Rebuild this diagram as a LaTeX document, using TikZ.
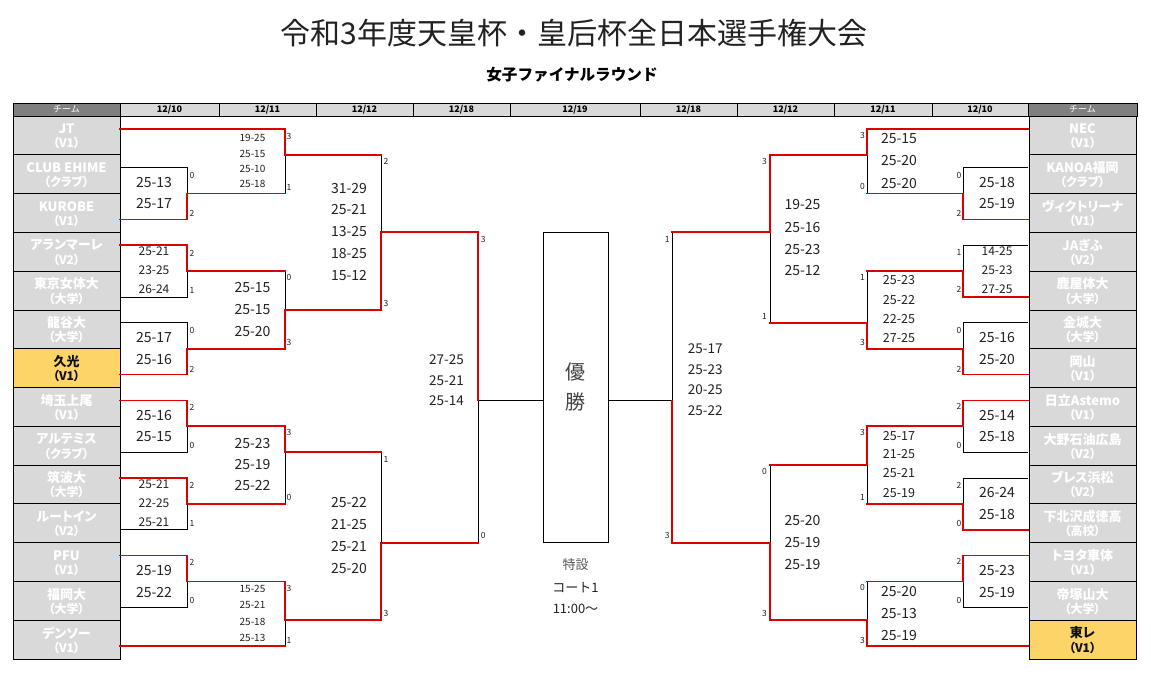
\documentclass[tikz,border=0pt]{standalone}
\usepackage{fontspec}
\setmainfont{Noto Sans CJK JP}
\newfontfamily\pf{Noto Sans CJK JP}[RawFeature=+palt]
\definecolor{tmfill}{HTML}{D9D9D9}
\definecolor{tmtext}{HTML}{FFFFFF}
\definecolor{hlfill}{HTML}{FCD468}
\definecolor{hltext}{HTML}{111111}
\definecolor{hdark}{HTML}{808080}
\definecolor{hlight}{HTML}{D9D9D9}
\definecolor{wred}{HTML}{DD0000}
\definecolor{ink}{HTML}{222222}
\newcounter{sn}
\newcommand\teamcell[6]{%
 \node[cellbox, fill=#6fill] (#1) at (#2,{116+38.786*#3+19.393}) {};
 \node[tname, text=#6text] (#1n) at (#2,{116+38.786*#3+12.8}) {#4};
 \node[tsub, text=#6text] (#1s) at (#2,{116+38.786*#3+27.3}) {#5};}
\newcommand\hcell[5]{%
 \node[hbox, minimum width={#3-#2}, #5] (#1) at ({(#2+#3)/2},109.5) {#4};}
\newcommand\sco[4]{\stepcounter{sn}%
 \node[sc, font=\fontsize{#1}{#1}\selectfont] (s\arabic{sn}) at (#2,#3) {#4};}
\newcommand\lbl[3]{\stepcounter{sn}%
 \node[lb] (l\arabic{sn}) at (#1,#2) {#3};}
\begin{document}
\begin{tikzpicture}[x=1pt,y=-1pt,
  cellbox/.style={draw=black, line width=0.8pt, minimum width=107pt, minimum height=38.786pt, inner sep=0pt},
  tname/.style={font=\pf\bfseries\fontsize{13}{13}\selectfont, inner sep=0pt},
  tsub/.style={font=\pf\bfseries\fontsize{12}{12}\selectfont, inner sep=0pt},
  hbox/.style={draw=black, line width=0.8pt, minimum height=13pt, inner sep=0pt, font=\bfseries\fontsize{9}{9}\selectfont},
  sc/.style={inner sep=0pt, text=ink},
  lb/.style={inner sep=0pt, text=ink, font=\fontsize{8.5}{8.5}\selectfont},
  rl/.style={draw=wred, line width=1.8pt, line join=miter, line cap=rect},
  bk/.style={draw=black, line width=0.9pt},
  fbox/.style={draw=black, line width=0.9pt}
]
\useasboundingbox (0,0) rectangle (1151,689);
\fill[white] (0,0) rectangle (1151,689);

% titles
\node[inner sep=0pt, text=ink, font=\fontsize{30}{30}\selectfont] (title) at (574,33) {令和3年度天皇杯・皇后杯全日本選手権大会};
\node[inner sep=0pt, text=black, font=\bfseries\fontsize{15.6}{15.6}\selectfont] (subtitle) at (572,75) {女子ファイナルラウンド};

% header
\hcell{hL}{13}{120}{チーム}{fill=hdark, text=white, font=\fontsize{9}{9}\selectfont}
\hcell{h1}{120}{219}{12/10}{fill=hlight}
\hcell{h2}{219}{316}{12/11}{fill=hlight}
\hcell{h3}{316}{413}{12/12}{fill=hlight}
\hcell{h4}{413}{510}{12/18}{fill=hlight}
\hcell{h5}{510}{640}{12/19}{fill=hlight}
\hcell{h6}{640}{737}{12/18}{fill=hlight}
\hcell{h7}{737}{834}{12/12}{fill=hlight}
\hcell{h8}{834}{932}{12/11}{fill=hlight}
\hcell{h9}{932}{1028}{12/10}{fill=hlight}
\hcell{hR}{1028}{1137}{チーム}{fill=hdark, text=white, font=\fontsize{9}{9}\selectfont}

% left teams
\teamcell{TL0}{66.5}{0}{JT}{（V1）}{tm}
\teamcell{TL1}{66.5}{1}{CLUB EHIME}{（クラブ）}{tm}
\teamcell{TL2}{66.5}{2}{KUROBE}{（V1）}{tm}
\teamcell{TL3}{66.5}{3}{アランマーレ}{（V2）}{tm}
\teamcell{TL4}{66.5}{4}{東京女体大}{（大学）}{tm}
\teamcell{TL5}{66.5}{5}{龍谷大}{（大学）}{tm}
\teamcell{TL6}{66.5}{6}{久光}{（V1）}{hl}
\teamcell{TL7}{66.5}{7}{埼玉上尾}{（V1）}{tm}
\teamcell{TL8}{66.5}{8}{アルテミス}{（クラブ）}{tm}
\teamcell{TL9}{66.5}{9}{筑波大}{（大学）}{tm}
\teamcell{TL10}{66.5}{10}{ルートイン}{（V2）}{tm}
\teamcell{TL11}{66.5}{11}{PFU}{（V1）}{tm}
\teamcell{TL12}{66.5}{12}{福岡大}{（大学）}{tm}
\teamcell{TL13}{66.5}{13}{デンソー}{（V1）}{tm}
% right teams
\teamcell{TR0}{1082.5}{0}{NEC}{（V1）}{tm}
\teamcell{TR1}{1082.5}{1}{KANOA福岡}{（クラブ）}{tm}
\teamcell{TR2}{1082.5}{2}{ヴィクトリーナ}{（V1）}{tm}
\teamcell{TR3}{1082.5}{3}{JAぎふ}{（V2）}{tm}
\teamcell{TR4}{1082.5}{4}{鹿屋体大}{（大学）}{tm}
\teamcell{TR5}{1082.5}{5}{金城大}{（大学）}{tm}
\teamcell{TR6}{1082.5}{6}{岡山}{（V1）}{tm}
\teamcell{TR7}{1082.5}{7}{日立Astemo}{（V1）}{tm}
\teamcell{TR8}{1082.5}{8}{大野石油広島}{（V2）}{tm}
\teamcell{TR9}{1082.5}{9}{ブレス浜松}{（V2）}{tm}
\teamcell{TR10}{1082.5}{10}{下北沢成徳高}{（高校）}{tm}
\teamcell{TR11}{1082.5}{11}{トヨタ車体}{（V1）}{tm}
\teamcell{TR12}{1082.5}{12}{帝塚山大}{（大学）}{tm}
\teamcell{TR13}{1082.5}{13}{東レ}{（V1）}{hl}

% bracket lines (x in px, y in sub-rows)
\begin{scope}[yshift=-116pt, y=-12.92857pt]
% final box
\node[fbox, minimum width=65pt, minimum height=310.3pt, inner sep=0pt] (final) at (575.5,21) {};
\coordinate (sl) at (478,22);
\coordinate (sr) at (672,22);
% left black
\draw[bk] (120,4)--(187,4)--(187,6);
\draw[bk] (187,12)--(187,14)--(120,14);
\draw[bk] (120,16)--(187,16)--(187,18);
\draw[bk] (187,24)--(187,26)--(120,26);
\draw[bk] (187,30)--(187,32)--(120,32);
\draw[bk] (187,36)--(187,38)--(120,38);
\draw[bk] (285,3)--(285,6);
\draw[bk] (285,12)--(285,15);
\draw[bk] (285,26)--(285,30);
\draw[bk] (285,39)--(285,41);
\draw[bk] (381,3)--(381,9);
\draw[bk] (381,26)--(381,33);
\draw[bk] (478,33)--(sl)--(sl -| final.west);
% right black
\draw[bk] (1028,4)--(963,4)--(963,6);
\draw[bk] (1028,10)--(963,10)--(963,12);
\draw[bk] (1028,16)--(963,16)--(963,18);
\draw[bk] (963,24)--(963,26)--(1028,26);
\draw[bk] (1028,28)--(963,28)--(963,30);
\draw[bk] (963,36)--(963,38)--(1028,38);
\draw[bk] (867,3)--(867,6);
\draw[bk] (867,12)--(867,16);
\draw[bk] (867,27)--(867,30);
\draw[bk] (867,36)--(867,39);
\draw[bk] (770,9)--(770,16);
\draw[bk] (770,27)--(770,33);
\draw[bk] (672,9)--(sr)--(sr -| final.east);
% left red
\draw[rl] (120,1)--(285,1)--(285,3)--(381,3);
\draw[rl] (120,8)--(187,8)--(187,6)--(285,6);
\draw[rl] (120,10)--(187,10)--(187,12)--(285,12);
\draw[rl] (120,20)--(187,20)--(187,18)--(285,18)--(285,15)--(381,15)--(381,9)--(478,9)--(sl);
\draw[rl] (120,22)--(187,22)--(187,24)--(285,24)--(285,26)--(381,26);
\draw[rl] (120,28)--(187,28)--(187,30)--(285,30);
\draw[rl] (120,34)--(187,34)--(187,36)--(285,36)--(285,39)--(381,39)--(381,33)--(478,33);
\draw[rl] (120,41)--(285,41);
% right red
\draw[rl] (1028,1)--(867,1)--(867,3)--(770,3)--(770,9)--(672,9);
\draw[rl] (1028,8)--(963,8)--(963,6)--(867,6);
\draw[rl] (1028,14)--(963,14)--(963,12)--(867,12);
\draw[rl] (1028,20)--(963,20)--(963,18)--(867,18)--(867,16)--(770,16);
\draw[rl] (1028,22)--(963,22)--(963,24)--(867,24)--(867,27)--(770,27);
\draw[rl] (1028,32)--(963,32)--(963,30)--(867,30);
\draw[rl] (1028,34)--(963,34)--(963,36)--(867,36);
\draw[rl] (1028,41)--(867,41)--(867,39)--(770,39)--(770,33)--(672,33)--(sr);
\end{scope}

% ---- scores left R1
\sco{14}{154}{182.3}{25-13}\sco{14}{154}{203.5}{25-17}
\sco{12}{154}{251.7}{25-21}\sco{12}{154}{270.7}{23-25}\sco{12}{154}{289.5}{26-24}
\sco{14}{154}{337.3}{25-17}\sco{14}{154}{359.3}{25-16}
\sco{14}{154}{415}{25-16}\sco{14}{154}{436.7}{25-15}
\sco{12}{154}{484.7}{25-21}\sco{12}{154}{503.5}{22-25}\sco{12}{154}{522.5}{25-21}
\sco{14}{154}{570}{25-19}\sco{14}{154}{592.3}{25-22}
\lbl{192}{175}{0}\lbl{192}{213}{2}\lbl{192}{253}{2}\lbl{192}{290}{1}
\lbl{192}{330}{0}\lbl{192}{369}{2}\lbl{192}{407}{2}\lbl{192}{445}{0}
\lbl{192}{485}{2}\lbl{192}{523}{1}\lbl{192}{562}{2}\lbl{192}{600}{0}
% left R2
\sco{10}{252.5}{137.7}{19-25}\sco{10}{252.5}{153.7}{25-15}\sco{10}{252.5}{168.5}{25-10}\sco{10}{252.5}{184}{25-18}
\sco{14}{252.5}{287.3}{25-15}\sco{14}{252.5}{309.3}{25-15}\sco{14}{252.5}{331.5}{25-20}
\sco{14}{252.5}{443}{25-23}\sco{14}{252.5}{464.5}{25-19}\sco{14}{252.5}{485.5}{25-22}
\sco{10}{252.5}{588.7}{15-25}\sco{10}{252.5}{604.5}{25-21}\sco{10}{252.5}{621.7}{25-18}\sco{10}{252.5}{637.5}{25-13}
\lbl{289}{136}{3}\lbl{289}{187.5}{1}\lbl{289}{277.5}{0}\lbl{289}{342.5}{3}
\lbl{289}{432.7}{3}\lbl{289}{497}{0}\lbl{289}{588}{3}\lbl{289}{640}{1}
% left R3
\sco{14}{349}{188.3}{31-29}\sco{14}{349}{210}{25-21}\sco{14}{349}{232}{13-25}\sco{14}{349}{254}{18-25}\sco{14}{349}{276}{15-12}
\sco{14}{349}{502.3}{25-22}\sco{14}{349}{524.3}{21-25}\sco{14}{349}{546.5}{25-21}\sco{14}{349}{568.3}{25-20}
\lbl{386}{161.5}{2}\lbl{386}{303.3}{3}\lbl{386}{459}{1}\lbl{386}{613.3}{3}
% left semi
\sco{13.5}{446.5}{359.3}{27-25}\sco{13.5}{446.5}{380.2}{25-21}\sco{13.5}{446.5}{401}{25-14}
\lbl{483.3}{239}{3}\lbl{483.3}{535.7}{0}
% final
\node[inner sep=0pt, text=ink!85, font=\fontsize{20}{20}\selectfont] (yu) at (575.5,372.3) {優};
\node[inner sep=0pt, text=ink!85, font=\fontsize{20}{20}\selectfont] (sho) at (575.5,401.7) {勝};
\node[inner sep=0pt, text=ink!75, font=\fontsize{13}{13}\selectfont] (ven1) at (575.5,565) {特設};
\node[inner sep=0pt, text=ink, font=\fontsize{13}{13}\selectfont] (ven2) at (575.5,587.3) {コート1};
\node[inner sep=0pt, text=ink, font=\fontsize{13}{13}\selectfont] (ven3) at (575.5,609.3) {11:00～};
% right semi
\sco{13.5}{705.3}{349}{25-17}\sco{13.5}{705.3}{370}{25-23}\sco{13.5}{705.3}{390}{20-25}\sco{13.5}{705.3}{410.7}{25-22}
\lbl{667.3}{239}{1}\lbl{667.3}{535.7}{3}
% right R3
\sco{14}{802.5}{205}{19-25}\sco{14}{802.5}{227.3}{25-16}\sco{14}{802.5}{249.3}{25-23}\sco{14}{802.5}{271}{25-12}
\sco{14}{802.5}{520.7}{25-20}\sco{14}{802.5}{542.3}{25-19}\sco{14}{802.5}{564.3}{25-19}
\lbl{764.5}{161.7}{3}\lbl{764.5}{316.7}{1}\lbl{764.5}{471.7}{0}\lbl{764.5}{613.3}{3}
% right R2
\sco{14}{899}{139}{25-15}\sco{14}{899}{161}{25-20}\sco{14}{899}{183.3}{25-20}
\sco{12.5}{899}{280}{25-23}\sco{12.5}{899}{300}{25-22}\sco{12.5}{899}{319}{22-25}\sco{12.5}{899}{337.7}{27-25}
\sco{12.5}{899}{435.7}{25-17}\sco{12.5}{899}{454.5}{21-25}\sco{12.5}{899}{473.5}{25-21}\sco{12.5}{899}{493.3}{25-19}
\sco{14}{899}{591}{25-20}\sco{14}{899}{613.3}{25-13}\sco{14}{899}{635}{25-19}
\lbl{862.5}{135.7}{3}\lbl{862.5}{186.7}{0}\lbl{862.5}{277.7}{1}\lbl{862.5}{342.3}{3}
\lbl{862.5}{432.7}{3}\lbl{862.5}{497.7}{1}\lbl{862.5}{587.7}{0}\lbl{862.5}{640}{3}
% right R1
\sco{14}{997}{182.3}{25-18}\sco{14}{997}{204}{25-19}
\sco{12}{997}{251.7}{14-25}\sco{12}{997}{270.7}{25-23}\sco{12}{997}{289.5}{27-25}
\sco{14}{997}{337.3}{25-16}\sco{14}{997}{359.3}{25-20}
\sco{14}{997}{415}{25-14}\sco{14}{997}{436}{25-18}
\sco{14}{997}{492.3}{26-24}\sco{14}{997}{514}{25-18}
\sco{14}{997}{570}{25-23}\sco{14}{997}{592.3}{25-19}
\lbl{959}{175}{0}\lbl{959}{213.3}{2}\lbl{959}{252}{1}\lbl{959}{289}{2}
\lbl{959}{330}{0}\lbl{959}{369}{2}\lbl{959}{406.7}{2}\lbl{959}{445}{0}
\lbl{959}{485}{2}\lbl{959}{523.3}{0}\lbl{959}{561.7}{2}\lbl{959}{600}{0}
\end{tikzpicture}
\end{document}
